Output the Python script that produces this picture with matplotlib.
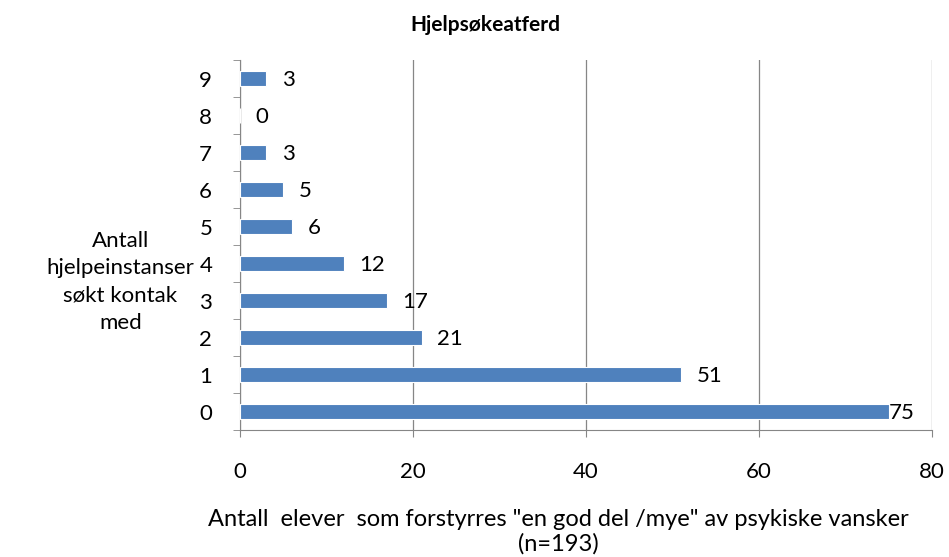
import matplotlib.pyplot as plt
import numpy as np

plt.rcParams['font.family'] = ['Lato', 'DejaVu Sans']

categories = ['0', '1', '2', '3', '4', '5', '6', '7', '8', '9']
values = [75, 51, 21, 17, 12, 6, 5, 3, 0, 3]

fig = plt.figure(figsize=(9.49, 5.57), dpi=100)
ax = fig.add_axes([0.2529, 0.228, 0.7292, 0.664])

y = np.arange(len(categories))
ax.barh(y, values, height=0.4, color='#4F81BD', edgecolor='white', linewidth=0.8, zorder=3)

for yi, v in zip(y, values):
    off = 0 if v >= 70 else 1.8
    ax.text(v + off, yi - 0.05, str(v), va='center', ha='left', fontsize=16, color='black')

ax.set_xlim(0, 80)
ax.set_ylim(-0.5, len(categories) - 0.5)
ax.set_xticks([0, 20, 40, 60, 80])
ax.set_yticks(y)
ax.set_yticklabels(categories)
ax.set_yticks(np.arange(-0.5, len(categories), 1), minor=True)
ax.tick_params(axis='y', which='major', length=0, labelsize=16, pad=20)
ax.tick_params(axis='y', which='minor', length=5, color='#868686')
ax.tick_params(axis='x', length=5, color='#868686', labelsize=16, pad=18)

ax.grid(axis='x', color='#868686', linewidth=0.9, zorder=0)
for s in ['top', 'right']:
    ax.spines[s].set_visible(False)
for s in ['left', 'bottom']:
    ax.spines[s].set_color('#868686')

fig.text(0.511, 0.955, 'Hjelpsøkeatferd', fontsize=15, fontweight='bold',
         ha='center', va='center')
fig.text(558 / 949, 1 - 532 / 557,
         'Antall  elever  som forstyrres "en god del /mye" av psykiske vansker\n(n=193)',
         fontsize=17, ha='center', va='center', multialignment='center', linespacing=1.2)
fig.text(0.127, 1 - 282 / 557, 'Antall\nhjelpeinstanser\nsøkt kontak\nmed', fontsize=16,
         ha='center', va='center', multialignment='center', linespacing=1.45)

plt.savefig('out.png', dpi=100)
